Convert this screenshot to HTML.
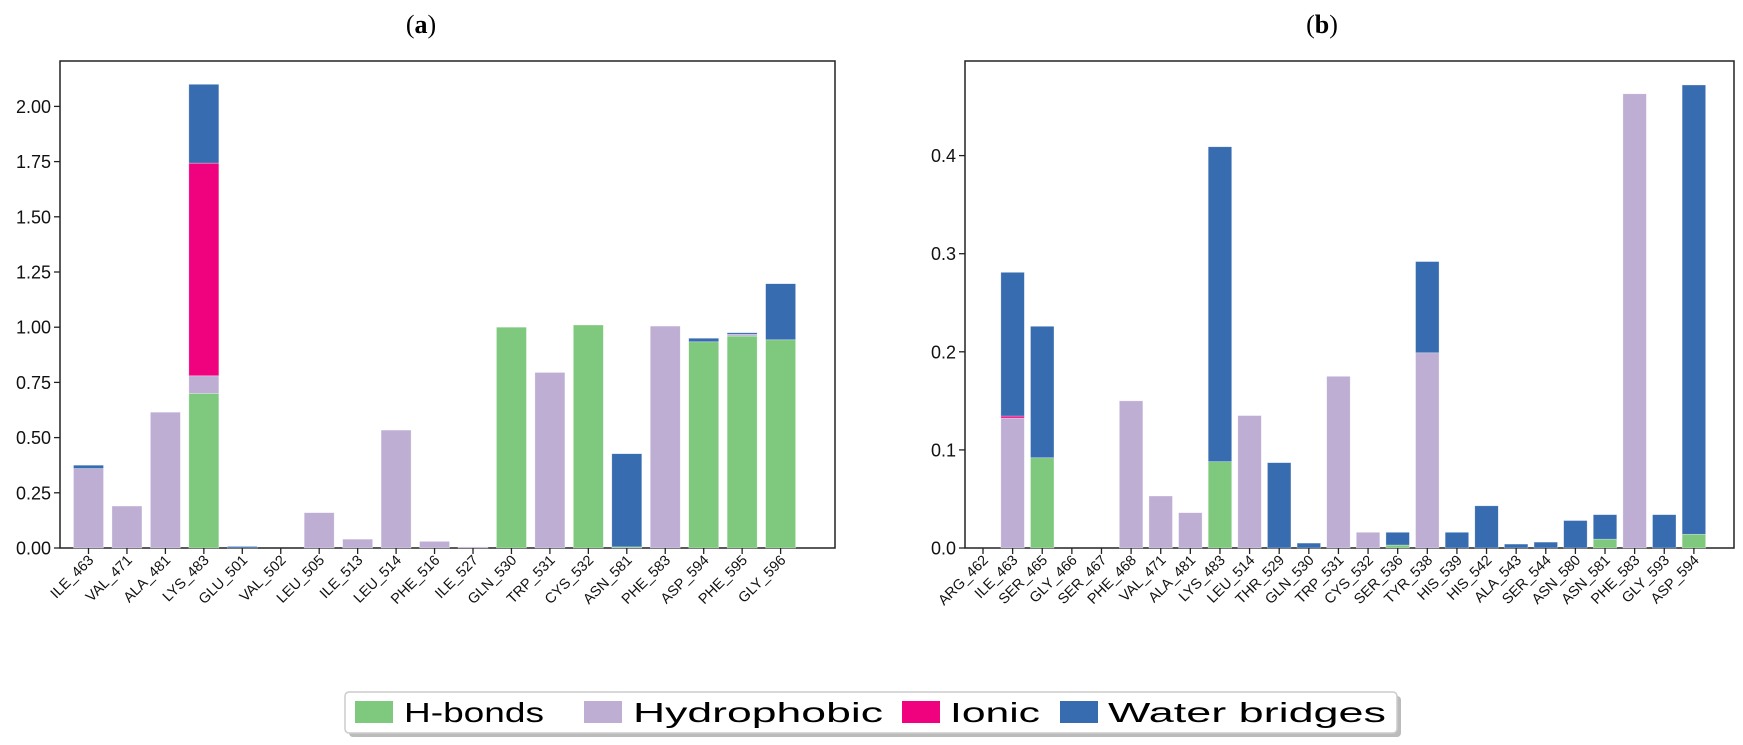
<!DOCTYPE html>
<html><head><meta charset="utf-8"><style>
html,body{margin:0;padding:0;background:#fff;}
svg{display:block;font-family:"Liberation Sans","DejaVu Sans",sans-serif;}
</style></head><body>
<svg id="fig" width="1743" height="745" viewBox="0 0 1743 745">
<text x="421" y="33" text-anchor="middle" font-family="Liberation Serif, serif" font-size="26">(<tspan font-weight="bold">a</tspan>)</text>
<text x="1322" y="33" text-anchor="middle" font-family="Liberation Serif, serif" font-size="26">(<tspan font-weight="bold">b</tspan>)</text>
<g id="ca"></g>
<g id="cb"></g>
<g>
<rect x="349" y="696" width="1052" height="41" rx="4" fill="#bbb"/>
<rect x="345" y="692" width="1052" height="41" rx="4" fill="#fff" stroke="#ccc" stroke-width="1.5"/>
<g><rect x="355" y="701" width="38" height="22" fill="#7fc97f"/><text x="404" y="722" font-size="28" textLength="140" lengthAdjust="spacingAndGlyphs">H-bonds</text></g>
<g><rect x="584" y="701" width="38" height="22" fill="#beaed4"/><text x="633" y="722" font-size="28" textLength="250" lengthAdjust="spacingAndGlyphs">Hydrophobic</text></g>
<g><rect x="902" y="701" width="38" height="22" fill="#f0027f"/><text x="950" y="722" font-size="28" textLength="90" lengthAdjust="spacingAndGlyphs">Ionic</text></g>
<g><rect x="1060" y="701" width="38" height="22" fill="#386cb0"/><text x="1108" y="722" font-size="28" textLength="278" lengthAdjust="spacingAndGlyphs">Water bridges</text></g>
</g>
</svg>
<script>
const catsA = ["ILE_463","VAL_471","ALA_481","LYS_483","GLU_501","VAL_502","LEU_505","ILE_513","LEU_514","PHE_516","ILE_527","GLN_530","TRP_531","CYS_532","ASN_581","PHE_583","ASP_594","PHE_595","GLY_596"];
const hbA   = [0,0,0,0.70,0,0,0,0,0,0,0,1.00,0,1.01,0.005,0,0.934,0.96,0.943];
const hydA  = [0.36,0.19,0.615,0.08,0,0,0.16,0.04,0.534,0.03,0.005,0,0.795,0,0,1.005,0,0.008,0];
const ionA  = [0,0,0,0.963,0,0,0,0,0,0,0,0,0,0,0,0,0,0,0];
const watA  = [0.015,0,0,0.357,0.007,0,0,0,0,0,0,0,0,0,0.422,0,0.016,0.007,0.254];
const ticksA = ["0.00","0.25","0.50","0.75","1.00","1.25","1.50","1.75","2.00"];

const catsB = ["ARG_462","ILE_463","SER_465","GLY_466","SER_467","PHE_468","VAL_471","ALA_481","LYS_483","LEU_514","THR_529","GLN_530","TRP_531","CYS_532","SER_536","TYR_538","HIS_539","HIS_542","ALA_543","SER_544","ASN_580","ASN_581","PHE_583","GLY_593","ASP_594"];
const hbB   = [0,0,0.092,0,0,0,0,0,0.088,0,0,0,0,0,0.003,0,0,0,0,0,0,0.009,0,0,0.014];
const hydB  = [0,0.1325,0,0,0,0.15,0.053,0.036,0,0.135,0,0,0.175,0.016,0,0.199,0,0,0,0,0,0,0.463,0,0];
const ionB  = [0,0.002,0,0,0,0,0,0,0,0,0,0,0,0,0,0,0,0,0,0,0,0,0,0,0];
const watB  = [0,0.1465,0.134,0,0,0,0,0,0.321,0,0.087,0.005,0,0,0.013,0.093,0.016,0.043,0.004,0.006,0.028,0.025,0,0.034,0.458];
const ticksB = ["0.0","0.1","0.2","0.3","0.4"];

const COLORS = ["#7fc97f","#beaed4","#f0027f","#386cb0"];
const NS = "http://www.w3.org/2000/svg";
function mk(tag, attrs, parent){const e=document.createElementNS(NS,tag);for(const k in attrs)e.setAttribute(k,attrs[k]);parent.appendChild(e);return e;}

function draw(g, cfg){
  const {cats, series, ticks, left, right, top, bottom, y0, pxPerUnit, x0, step, bw} = cfg;
  const y = v => y0 - v*pxPerUnit;
  const x = i => x0 + i*step;
  const frame = mk("rect",{x:left,y:top,width:right-left,height:bottom-top,fill:"none",stroke:"#222","stroke-width":1.5},g);
  
  
  const names=["h-bonds","hydrophobic","ionic","water-bridges"];
  cats.forEach((c,i)=>{
    let base=0;
    series.forEach((s,k)=>{
      const v=s[i];
      if(v>0){
        const r=mk("rect",{x:x(i)-bw/2,y:y(base+v),width:bw,height:y(base)-y(base+v),fill:COLORS[k],stroke:"#fff","stroke-opacity":0.5,"stroke-width":0.6},g);
        
        
      }
      base+=v;
    });
    const t=mk("line",{x1:x(i),x2:x(i),y1:bottom,y2:bottom+6,stroke:"#222","stroke-width":1.3},g);
    
    
    const lx=x(i)+6, ly=bottom+13;
    const lab=mk("text",{x:lx,y:ly,"text-anchor":"end","font-size":14.5,transform:`rotate(-45 ${lx} ${ly})`,fill:"#111"},g);
    lab.textContent=c;
    
    
  });
  ticks.forEach(tl=>{
    const v=parseFloat(tl), yy=y(v);
    const t=mk("line",{x1:left-6,x2:left,y1:yy,y2:yy,stroke:"#222","stroke-width":1.3},g);
    
    
    const lab=mk("text",{x:left-9,y:yy+6.5,"text-anchor":"end","font-size":18,fill:"#111"},g);
    lab.textContent=tl;
    
    
  });
}
draw(document.getElementById("ca"),{cats:catsA,series:[hbA,hydA,ionA,watA],ticks:ticksA,left:60,right:835,top:61,bottom:548,y0:548,pxPerUnit:220.8,x0:88.5,step:38.45,bw:30});
draw(document.getElementById("cb"),{cats:catsB,series:[hbB,hydB,ionB,watB],ticks:ticksB,left:965,right:1734,top:61,bottom:548,y0:548,pxPerUnit:981,x0:983,step:29.62,bw:23.5});
</script>
</body></html>
